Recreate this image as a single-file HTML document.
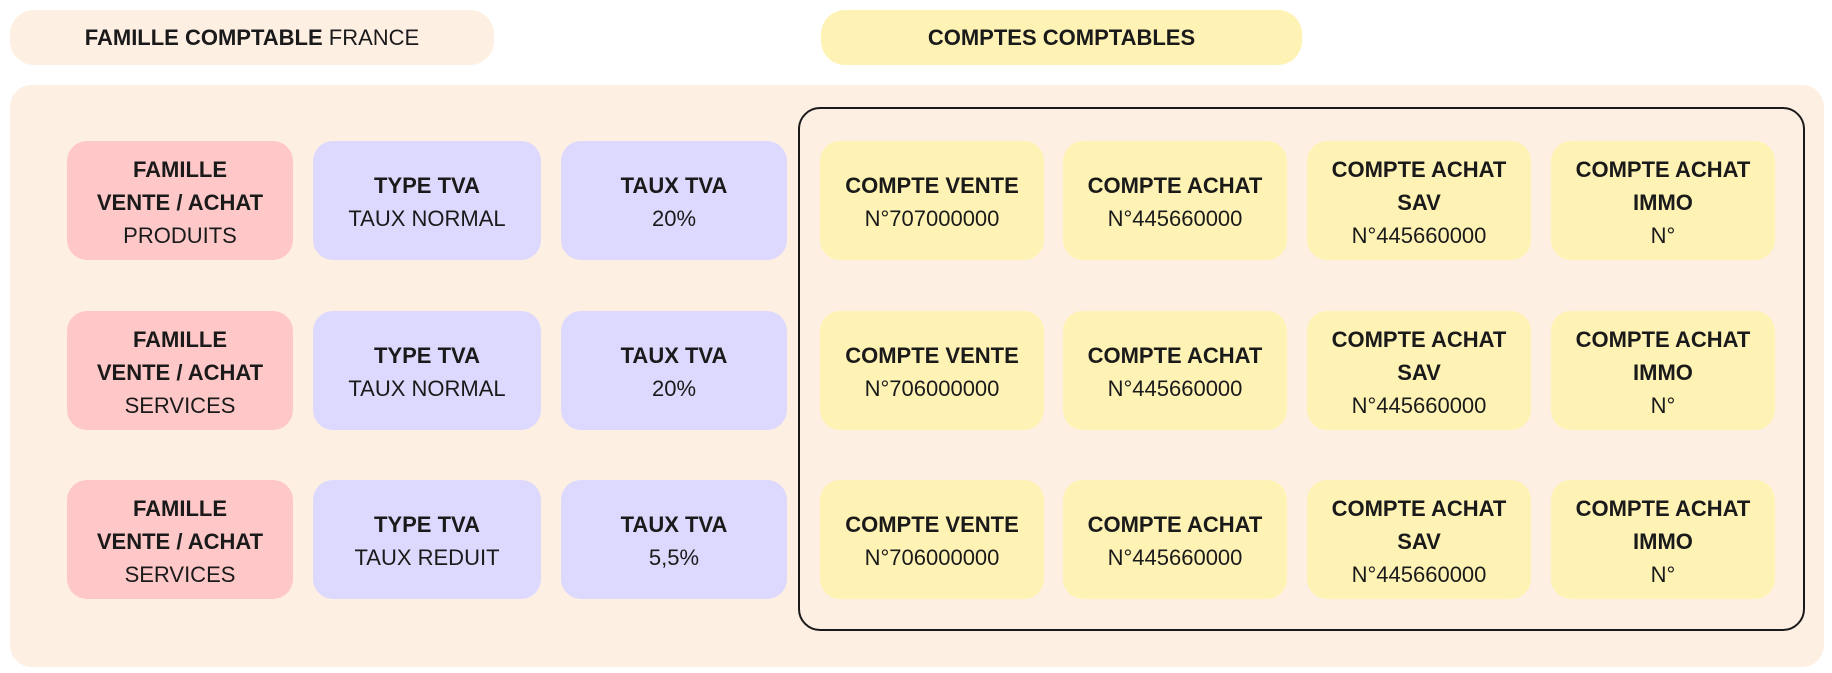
<!DOCTYPE html>
<html><head><meta charset="utf-8"><style>
body{margin:0;width:1832px;height:673px;background:#fff;font-family:"Liberation Sans",sans-serif;color:#1a1a1a;position:relative;overflow:hidden}
.b{position:absolute;display:flex;flex-direction:column;align-items:center;justify-content:center;text-align:center;font-size:22px;line-height:33px;border-radius:20px;box-sizing:border-box;padding-top:3px}
.t{font-weight:bold}
.r{background:#fec8c8}.p{background:#ddd9fe}.y{background:#fef3b5}
</style></head><body>
<div class="b" style="left:10px;top:10px;width:484px;height:55px;background:#feefe3;border-radius:24px;display:block;line-height:55px;padding-top:0"><b>FAMILLE COMPTABLE</b> FRANCE</div>
<div class="b y t" style="left:821px;top:10px;width:481px;height:55px;border-radius:24px;padding-top:0">COMPTES COMPTABLES</div>
<div style="position:absolute;left:10px;top:85px;width:1814px;height:582px;background:#feefe3;border-radius:22px"></div>
<div style="position:absolute;left:798px;top:107px;width:1007px;height:524px;border:2.5px solid #1a1a1a;border-radius:22px;box-sizing:border-box"></div>

<div class="b r" style="left:67px;top:141px;width:226px;height:119px"><span class="t">FAMILLE</span><span class="t">VENTE / ACHAT</span><span>PRODUITS</span></div>
<div class="b p" style="left:313px;top:141px;width:228px;height:119px"><span class="t">TYPE TVA</span><span>TAUX NORMAL</span></div>
<div class="b p" style="left:561px;top:141px;width:226px;height:119px"><span class="t">TAUX TVA</span><span>20%</span></div>

<div class="b r" style="left:67px;top:311px;width:226px;height:119px"><span class="t">FAMILLE</span><span class="t">VENTE / ACHAT</span><span>SERVICES</span></div>
<div class="b p" style="left:313px;top:311px;width:228px;height:119px"><span class="t">TYPE TVA</span><span>TAUX NORMAL</span></div>
<div class="b p" style="left:561px;top:311px;width:226px;height:119px"><span class="t">TAUX TVA</span><span>20%</span></div>

<div class="b r" style="left:67px;top:480px;width:226px;height:119px"><span class="t">FAMILLE</span><span class="t">VENTE / ACHAT</span><span>SERVICES</span></div>
<div class="b p" style="left:313px;top:480px;width:228px;height:119px"><span class="t">TYPE TVA</span><span>TAUX REDUIT</span></div>
<div class="b p" style="left:561px;top:480px;width:226px;height:119px"><span class="t">TAUX TVA</span><span>5,5%</span></div>

<div class="b y" style="left:820px;top:141px;width:224px;height:119px"><span class="t">COMPTE VENTE</span><span>N°707000000</span></div>
<div class="b y" style="left:1063px;top:141px;width:224px;height:119px"><span class="t">COMPTE ACHAT</span><span>N°445660000</span></div>
<div class="b y" style="left:1307px;top:141px;width:224px;height:119px"><span class="t">COMPTE ACHAT</span><span class="t">SAV</span><span>N°445660000</span></div>
<div class="b y" style="left:1551px;top:141px;width:224px;height:119px"><span class="t">COMPTE ACHAT</span><span class="t">IMMO</span><span>N°</span></div>

<div class="b y" style="left:820px;top:311px;width:224px;height:119px"><span class="t">COMPTE VENTE</span><span>N°706000000</span></div>
<div class="b y" style="left:1063px;top:311px;width:224px;height:119px"><span class="t">COMPTE ACHAT</span><span>N°445660000</span></div>
<div class="b y" style="left:1307px;top:311px;width:224px;height:119px"><span class="t">COMPTE ACHAT</span><span class="t">SAV</span><span>N°445660000</span></div>
<div class="b y" style="left:1551px;top:311px;width:224px;height:119px"><span class="t">COMPTE ACHAT</span><span class="t">IMMO</span><span>N°</span></div>

<div class="b y" style="left:820px;top:480px;width:224px;height:119px"><span class="t">COMPTE VENTE</span><span>N°706000000</span></div>
<div class="b y" style="left:1063px;top:480px;width:224px;height:119px"><span class="t">COMPTE ACHAT</span><span>N°445660000</span></div>
<div class="b y" style="left:1307px;top:480px;width:224px;height:119px"><span class="t">COMPTE ACHAT</span><span class="t">SAV</span><span>N°445660000</span></div>
<div class="b y" style="left:1551px;top:480px;width:224px;height:119px"><span class="t">COMPTE ACHAT</span><span class="t">IMMO</span><span>N°</span></div>
</body></html>
